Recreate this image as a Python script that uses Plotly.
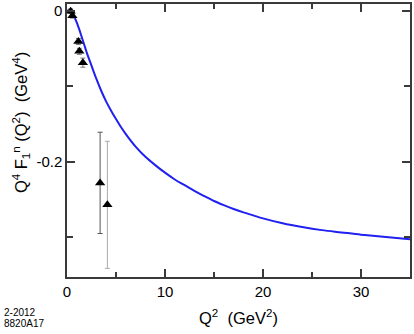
import plotly.graph_objects as go

# data points
q2_pts = [0.37, 0.55, 1.16, 1.26, 1.62, 3.38, 4.12]
f1_pts = [-0.001, -0.007, -0.041, -0.054, -0.069, -0.228, -0.257]
f1_err = [0.003, 0.003, 0.004, 0.004, 0.006, 0.067, 0.084]

# model curve
q2_curve = [0, 0.25, 0.5, 0.75, 1, 1.25, 1.5, 1.75, 2, 2.5, 3, 3.5, 4, 4.5, 5,
            5.5, 6, 7, 8, 9, 10, 11, 12, 13, 14, 15, 16, 17, 18, 19, 20, 22,
            24, 26, 28, 30, 32, 35]
f1_curve = [0, -0.0005, -0.003, -0.0085, -0.016, -0.025, -0.035, -0.045, -0.055,
            -0.073, -0.0905, -0.1065, -0.1205, -0.1325, -0.1435, -0.154, -0.1635,
            -0.180, -0.1935, -0.2045, -0.2145, -0.2235, -0.231, -0.2385, -0.2455,
            -0.252, -0.2575, -0.2625, -0.267, -0.271, -0.275, -0.2815, -0.2865,
            -0.2905, -0.2935, -0.2965, -0.299, -0.3025]

x_ticks = [0, 10, 20, 30]
y_ticks = [0, -0.2]
y_ticktext = ["0", "-0.2"]

FONT = "Liberation Sans, Arial, Helvetica, sans-serif"
AXC = "#3a3a3a"

fig = go.Figure()

fig.add_trace(go.Scatter(x=q2_curve, y=f1_curve, mode="lines",
                         line=dict(color="#2020f0", width=2, shape="spline",
                                   smoothing=1),
                         hoverinfo="skip"))

# small-Q2 points, then the two large ones with their own bar colours
bar_cols = ["#777777", "#555555", "#aaaaaa"]
groups = [(0, 5), (5, 6), (6, 7)]
for (a, b), c in zip(groups, bar_cols):
    fig.add_trace(go.Scatter(
        x=q2_pts[a:b], y=f1_pts[a:b], mode="markers",
        marker=dict(symbol="triangle-up", size=9, color="black"),
        error_y=dict(type="data", array=f1_err[a:b], color=c,
                     thickness=1, width=2.5)))

axis_common = dict(showline=True, linecolor=AXC, linewidth=1.5, mirror="ticks",
                   ticks="inside", tickcolor=AXC, tickwidth=1.5, ticklen=8,
                   showgrid=False, zeroline=False,
                   tickfont=dict(family=FONT, size=15, color="black"))

fig.update_xaxes(range=[0, 35], tickvals=x_ticks,
                 minor=dict(tickvals=[5, 15, 25], ticks="inside", ticklen=5,
                            tickcolor=AXC, tickwidth=1.5),
                 **axis_common)
fig.update_yaxes(range=[-0.3525, 0.0086], tickvals=y_ticks, ticktext=y_ticktext,
                 minor=dict(tickvals=[-0.1, -0.3], ticks="inside", ticklen=6,
                            tickcolor=AXC, tickwidth=1.5),
                 **axis_common)

fig.add_annotation(text="Q<sup>2</sup>  (GeV<sup>2</sup>)", xref="paper", yref="paper",
                   x=0.5, y=-0.146, xanchor="center", yanchor="middle",
                   showarrow=False, font=dict(family=FONT, size=16.5, color="black"))
fig.add_annotation(text="Q<sup>4</sup> F<sub>1</sub><sup>n</sup> (Q<sup>2</sup>)  (GeV<sup>4</sup>)",
                   xref="paper", yref="paper", x=-0.136, y=0.565,
                   xanchor="center", yanchor="middle", textangle=-90,
                   showarrow=False, font=dict(family=FONT, size=16.5, color="black"))
fig.add_annotation(text="2-2012", xref="paper", yref="paper",
                   x=-0.19, y=-0.104, xanchor="left", yanchor="top",
                   showarrow=False, font=dict(family=FONT, size=10, color="black"))
fig.add_annotation(text="8820A17", xref="paper", yref="paper",
                   x=-0.19, y=-0.142, xanchor="left", yanchor="top",
                   showarrow=False, font=dict(family=FONT, size=10, color="black"))

fig.update_layout(width=414, height=334, showlegend=False,
                  margin=dict(l=67, r=2, t=3, b=57),
                  plot_bgcolor="white", paper_bgcolor="white",
                  font=dict(family=FONT))

fig.write_html("out.html", config={"displayModeBar": False},
               post_script="document.body.style.margin='0';")
